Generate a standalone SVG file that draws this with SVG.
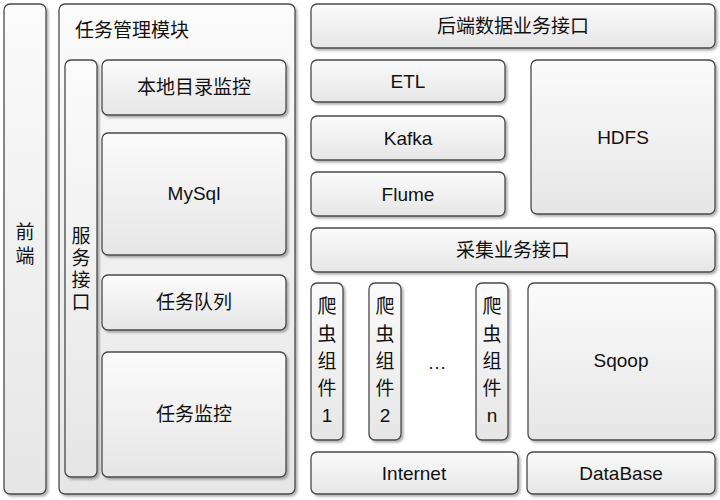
<svg xmlns="http://www.w3.org/2000/svg" width="720" height="500" viewBox="0 0 720 500">
<style>
.b{fill:url(#g);stroke:#4a4a4a;stroke-width:1.3;filter:url(#s)}
.t{font-family:"Liberation Sans","Noto Sans CJK SC",sans-serif;font-size:19px;fill:#111;text-anchor:middle;dominant-baseline:central}
</style>
<defs>
<linearGradient id="g" x1="0" y1="0" x2="0" y2="1"><stop offset="0" stop-color="#fbfbfb"/><stop offset="1" stop-color="#e6e6e6"/></linearGradient>
<filter id="s" x="-10%" y="-10%" width="120%" height="120%"><feDropShadow dx="2" dy="2" stdDeviation="1.2" flood-color="#000" flood-opacity="0.3"/></filter>
</defs>
<rect width="720" height="500" fill="#fff"/>
<g id="frontend"><rect class="b" x="4" y="4" width="42" height="490" rx="6"/><text class="t" x="25" y="232">前</text><text class="t" x="25" y="256">端</text></g>
<g id="taskmgmt"><rect class="b" x="59" y="4" width="236" height="490" rx="6"/><text class="t" x="75" y="30" style="text-anchor:start">任务管理模块</text></g>
<g id="service"><rect class="b" x="65" y="60" width="32" height="417" rx="6"/>
<text class="t" x="81" y="236">服</text><text class="t" x="81" y="258">务</text><text class="t" x="81" y="280">接</text><text class="t" x="81" y="302">口</text></g>
<g id="localdir"><rect class="b" x="102" y="60" width="184" height="55" rx="6"/><text class="t" x="194" y="87">本地目录监控</text></g>
<g id="mysql"><rect class="b" x="102" y="133" width="184" height="122" rx="6"/><text class="t" x="194" y="193">MySql</text></g>
<g id="queue"><rect class="b" x="102" y="275" width="184" height="55" rx="6"/><text class="t" x="194" y="302">任务队列</text></g>
<g id="monitor"><rect class="b" x="102" y="352" width="184" height="125" rx="6"/><text class="t" x="194" y="414">任务监控</text></g>
<g id="backend"><rect class="b" x="311" y="4" width="404" height="44" rx="6"/><text class="t" x="513" y="26">后端数据业务接口</text></g>
<g id="etl"><rect class="b" x="311" y="60" width="194" height="42" rx="6"/><text class="t" x="408" y="81">ETL</text></g>
<g id="kafka"><rect class="b" x="311" y="116" width="194" height="44" rx="6"/><text class="t" x="408" y="138">Kafka</text></g>
<g id="flume"><rect class="b" x="311" y="172" width="194" height="44" rx="6"/><text class="t" x="408" y="194">Flume</text></g>
<g id="hdfs"><rect class="b" x="531" y="60" width="184" height="154" rx="6"/><text class="t" x="623" y="137">HDFS</text></g>
<g id="collect"><rect class="b" x="311" y="228" width="404" height="44" rx="6"/><text class="t" x="513" y="250">采集业务接口</text></g>
<g id="c1"><rect class="b" x="311" y="283" width="32" height="157" rx="6"/><text class="t" x="327" y="306">爬</text><text class="t" x="327" y="334">虫</text><text class="t" x="327" y="361">组</text><text class="t" x="327" y="388">件</text><text class="t" x="327" y="415">1</text></g>
<g id="c2"><rect class="b" x="369" y="283" width="32" height="157" rx="6"/><text class="t" x="385" y="306">爬</text><text class="t" x="385" y="334">虫</text><text class="t" x="385" y="361">组</text><text class="t" x="385" y="388">件</text><text class="t" x="385" y="415">2</text></g>
<text class="t" x="437" y="362">…</text>
<g id="cn"><rect class="b" x="476" y="283" width="32" height="157" rx="6"/><text class="t" x="492" y="306">爬</text><text class="t" x="492" y="334">虫</text><text class="t" x="492" y="361">组</text><text class="t" x="492" y="388">件</text><text class="t" x="492" y="415">n</text></g>
<g id="sqoop"><rect class="b" x="528" y="283" width="187" height="157" rx="6"/><text class="t" x="621" y="360">Sqoop</text></g>
<g id="internet"><rect class="b" x="311" y="452" width="207" height="42" rx="6"/><text class="t" x="414" y="473">Internet</text></g>
<g id="database"><rect class="b" x="527" y="452" width="188" height="42" rx="6"/><text class="t" x="621" y="473">DataBase</text></g>
<g id="connectors"/>
</svg>
